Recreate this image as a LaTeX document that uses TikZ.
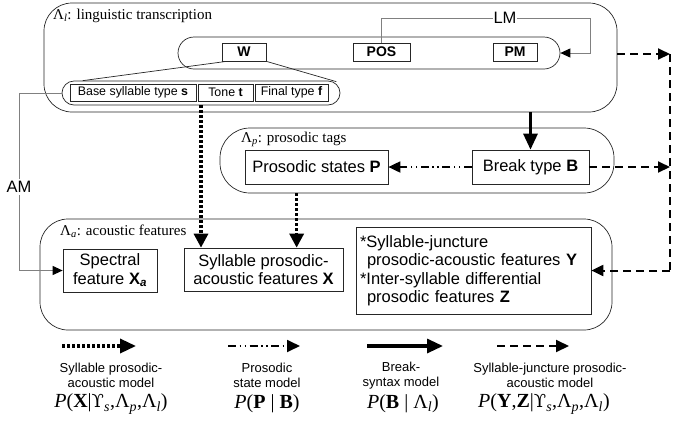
\documentclass[tikz,border=0pt]{standalone}
\usepackage{fontspec}
\setmainfont{Liberation Sans}
\newfontfamily\serif{Liberation Serif}
\newfontfamily\dvserif{DejaVu Serif}
\usetikzlibrary{arrows.meta,calc}
\newcommand{\fsz}[2]{\fontsize{#1}{#2}\selectfont}
\newcommand{\upsh}{{\dvserif\fsz{18}{20}ϒ}}
\begin{document}
\begin{tikzpicture}[x=1pt,y=-1pt,
  box/.style={draw=black!85, line width=0.7pt, inner sep=0pt, align=center},
  rbox/.style={draw=black!85, line width=0.7pt, inner sep=0pt},
  big/.style={font=\fsz{16.5}{18.5}},
  small/.style={font=\fsz{12.4}{14}},
  bold14/.style={font=\fsz{14}{16}\bfseries},
  lab/.style={font=\serif\fsz{15}{17}, inner sep=0pt, anchor=west},
  thinline/.style={draw=black!50, line width=1pt},
  blacktip/.style={-{Triangle[length=10pt,width=9pt,color=black,fill=black]}},
  dotarrow/.style={line width=3.2pt, dash pattern=on 3pt off 2pt, -{Triangle[length=14pt,width=14pt]}},
  dasharrow/.style={line width=2pt, dash pattern=on 8pt off 5pt, -{Triangle[length=12pt,width=11pt]}},
  ddarrow/.style={line width=1.8pt, dash pattern=on 8pt off 3.5pt on 1.5pt off 3.5pt on 1.5pt off 3.5pt, -{Triangle[length=12pt,width=11pt]}},
  solarrow/.style={line width=3pt, -{Triangle[length=16pt,width=14pt]}},
  leg/.style={font=\fsz{13}{15}, align=center, inner sep=0pt},
  form/.style={font=\serif\fsz{20}{22}, inner sep=0pt}
]
\useasboundingbox (0,0) rectangle (673,424);

% Lambda_l
\node[rbox, rounded corners=28pt, minimum width=573pt, minimum height=109pt] (Ll) at (330.5,57.5) {};
\node[lab] (Lltxt) at (53,16) {Λ\textsubscript{\textit{l}}: linguistic transcription};
\node[rbox, rounded corners=16pt, minimum width=382pt, minimum height=32pt] (wbox) at (369,53) {};
\node[box, bold14, minimum width=44pt, minimum height=18pt] (W) at (244,52) {W};
\node[box, bold14, minimum width=57pt, minimum height=18pt] (POS) at (381.5,52) {POS};
\node[box, bold14, minimum width=44pt, minimum height=18pt] (PM) at (515,52) {PM};
\node[rbox, rounded corners=12pt, minimum width=278pt, minimum height=24pt] (sbox) at (201,93) {};
\node[box, small, minimum width=126pt, minimum height=17pt] (base) at (133,92.5) {Base syllable type \textbf{s}};
\node[box, small, minimum width=55pt, minimum height=17pt] (tone) at (225.5,92.5) {Tone \textbf{t}};
\node[box, small, minimum width=73pt, minimum height=17pt] (final) at (291.5,92.5) {Final type \textbf{f}};

\draw[line width=0.7pt, draw=black!85] ([xshift=5pt]W.south west) -- ([xshift=21pt]sbox.north west);
\draw[line width=0.7pt, draw=black!85] (W.south east) -- ([xshift=-4pt,yshift=-1pt]sbox.north east);

% LM
\coordinate (lmc) at (590,18);
\draw[thinline, blacktip] (POS.north) |- (lmc) |- (wbox.east);
\node[fill=white, big, inner sep=1pt] (LM) at (505,18) {LM};

% Lambda_p
\node[rbox, rounded corners=30pt, minimum width=394pt, minimum height=65pt] (Lp) at (417,160.5) {};
\node[lab] (Lptxt) at (241,139) {Λ\textsubscript{\textit{p}}: prosodic tags};
\node[box, big, minimum width=143pt, minimum height=34pt] (P) at (316.5,167) {Prosodic states \textbf{P}};
\node[box, big, minimum width=117pt, minimum height=34pt] (B) at (530.5,167) {Break type \textbf{B}};

% Lambda_a
\node[rbox, rounded corners=28pt, minimum width=572pt, minimum height=111pt] (La) at (326,274.5) {};
\node[lab] (Latxt) at (60,231) {Λ\textsubscript{\textit{a}}: acoustic features};
\node[box, big, minimum width=94pt, minimum height=43pt] (Spec) at (110,270.5) {Spectral\\feature \textbf{X}\textsubscript{\textbf{\textit{a}}}};
\node[box, big, minimum width=159pt, minimum height=43pt] (X) at (263.5,269.5) {Syllable prosodic-\\acoustic features \textbf{X}};
\node[box, big, minimum width=235pt, minimum height=87pt, align=left, text width=227pt] (YZ) at (473.5,270.5) {*Syllable-juncture\\\hspace*{7pt}prosodic-acoustic features \textbf{Y}\\{*}Inter-syllable differential\\\hspace*{7pt}prosodic features \textbf{Z}};

% AM
\coordinate (am1) at (19,93);
\draw[thinline] (sbox.west) -- (am1) -- (am1 |- Spec.west);
\draw[thinline, blacktip] (am1 |- Spec.west) -- (Spec.west);
\node[fill=white, big, inner sep=2pt] (AM) at (19,187) {AM};

% dotted arrows
\draw[dotarrow] (sbox.south) -- (sbox.south |- X.north);
\draw[dotarrow] ([xshift=77pt]Lp.south west) -- ([xshift=77pt]Lp.south west |- X.north);

% solid
\draw[solarrow] (B.north |- Ll.south) -- (B.north);
% dash-dot
\draw[ddarrow] (B.west) -- (P.east);

% dashed bus
\coordinate (J1) at (670,54);
\draw[dasharrow] (Ll.east |- J1) -- (J1);
\draw[dasharrow] (B.east) -- (B.east -| J1);
\draw[line width=2pt, dash pattern=on 8pt off 5pt] (J1) -- (J1 |- YZ.east);
\draw[dasharrow] (J1 |- YZ.east) -- (YZ.east);

% legend
\coordinate (l1a) at (62,346);  \coordinate (l1b) at (136,346);
\coordinate (l2a) at (228,346); \coordinate (l2b) at (300,346);
\coordinate (l3a) at (367,346); \coordinate (l3b) at (443,346);
\coordinate (l4a) at (497,346); \coordinate (l4b) at (569,346);
\draw[line width=3.4pt, dash pattern=on 3pt off 2pt, -{Triangle[length=16pt,width=14pt]}] (l1a) -- (l1b);
\draw[line width=1.8pt, dash pattern=on 8pt off 3.5pt on 1.5pt off 3.5pt on 1.5pt off 3.5pt, -{Triangle[length=13pt,width=12pt]}] (l2a) -- (l2b);
\draw[line width=3.2pt, -{Triangle[length=16pt,width=14pt]}] (l3a) -- (l3b);
\draw[line width=2pt, dash pattern=on 8pt off 5pt, -{Triangle[length=13pt,width=12pt]}] (l4a) -- (l4b);

\node[leg] (t1) at (111,375.5) {Syllable prosodic-\\acoustic model};
\node[leg] (t2) at (267,375.5) {Prosodic\\state model};
\node[leg] (t3) at (401,375.5) {Break-\\syntax model};
\node[leg] (t4) at (550,375.5) {Syllable-juncture prosodic-\\acoustic model};

\node[form] (f1) at (111,404) {\textit{P}(\textbf{X}|\upsh\textsubscript{\textit{s}},Λ\textsubscript{\textit{p}},Λ\textsubscript{\textit{l}})};
\node[form] (f2) at (267,404) {\textit{P}(\textbf{P} | \textbf{B})};
\node[form] (f3) at (403,404) {\textit{P}(\textbf{B} | Λ\textsubscript{\textit{l}})};
\node[form] (f4) at (544,404) {\textit{P}(\textbf{Y},\textbf{Z}|\upsh\textsubscript{\textit{s}},Λ\textsubscript{\textit{p}},Λ\textsubscript{\textit{l}})};
\end{tikzpicture}
\end{document}
